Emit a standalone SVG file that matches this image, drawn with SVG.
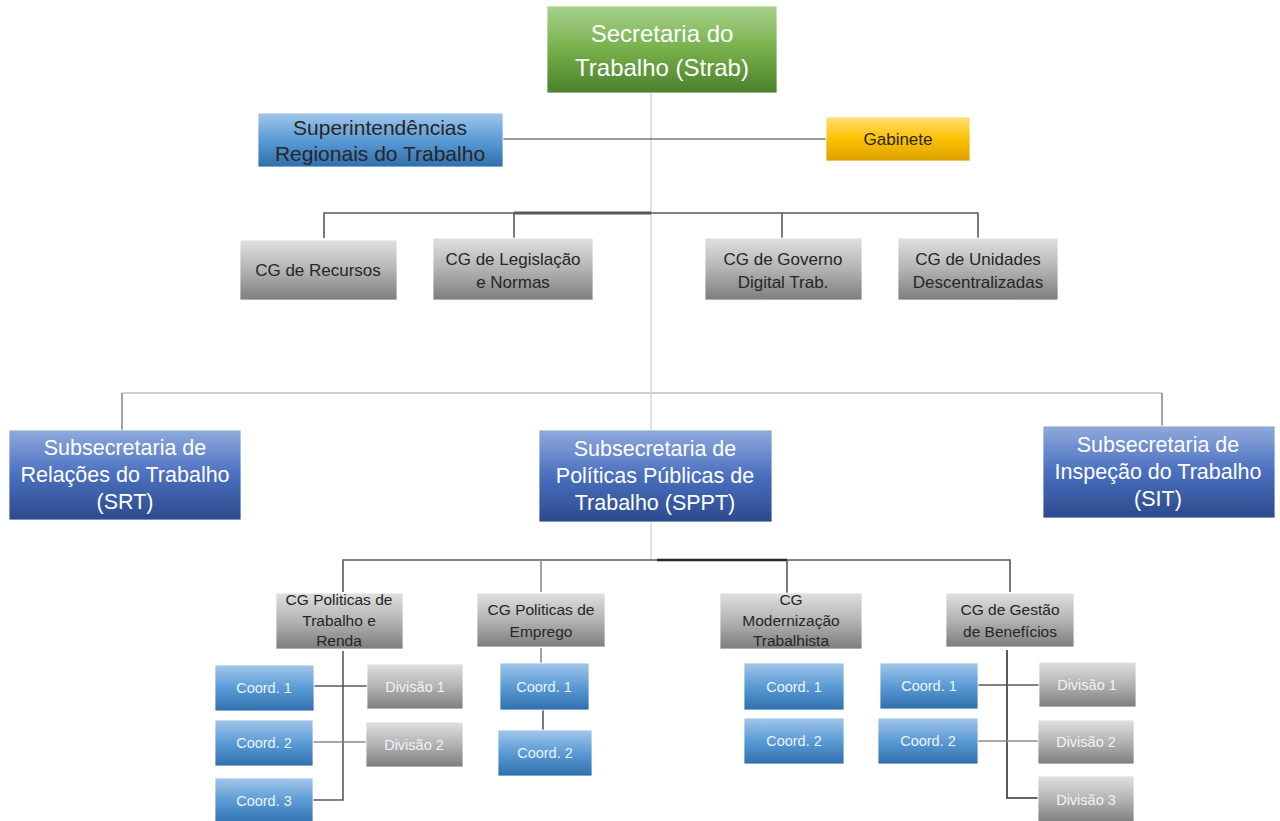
<svg xmlns="http://www.w3.org/2000/svg" width="1280" height="821" viewBox="0 0 1280 821">
<defs>
<linearGradient id="gGreen" x1="0" y1="0" x2="0" y2="1"><stop offset="0" stop-color="#a9d18e"/><stop offset="0.5" stop-color="#76b04a"/><stop offset="1" stop-color="#4b7f2c"/></linearGradient>
<linearGradient id="gLblue" x1="0" y1="0" x2="0" y2="1"><stop offset="0" stop-color="#a2c6ea"/><stop offset="0.5" stop-color="#5b9bd5"/><stop offset="1" stop-color="#2e6fad"/></linearGradient>
<linearGradient id="gYel" x1="0" y1="0" x2="0" y2="1"><stop offset="0" stop-color="#ffe07a"/><stop offset="0.5" stop-color="#ffc000"/><stop offset="1" stop-color="#d9a100"/></linearGradient>
<linearGradient id="gGray" x1="0" y1="0" x2="0" y2="1"><stop offset="0" stop-color="#e0e0e0"/><stop offset="0.5" stop-color="#b3b3b3"/><stop offset="1" stop-color="#7d7d7d"/></linearGradient>
<linearGradient id="gDblue" x1="0" y1="0" x2="0" y2="1"><stop offset="0" stop-color="#8faadc"/><stop offset="0.5" stop-color="#4a6fbf"/><stop offset="1" stop-color="#2c4a8c"/></linearGradient>
</defs>
<style>
text{font-family:"Liberation Sans Narrow","Liberation Sans",Arial,sans-serif;text-anchor:middle}
.dk{fill:#262626}
.wh{fill:#ffffff}
.lw{fill:#eef3fa}
.ln{stroke:#595959;stroke-width:1.6;fill:none}
.lg{stroke:#cfcfcf;stroke-width:1.3;fill:none}
.lm{stroke:#8a8a8a;stroke-width:1.6;fill:none}
.bx{stroke:#ffffff;stroke-width:0.8}
</style>
<rect width="1280" height="821" fill="#ffffff"/>
<g id="connectors">
<line class="lg" x1="651" y1="93" x2="651" y2="560"/>
<line class="ln" x1="503" y1="139" x2="826" y2="139" style="stroke:#7a7a7a"/>
<polyline class="ln" points="324,238 324,213 978,213 978,238"/>
<line class="ln" x1="514" y1="213" x2="514" y2="238"/>
<line class="ln" x1="782" y1="213" x2="782" y2="238"/>
<line x1="514" y1="213" x2="651" y2="213" stroke="#595959" stroke-width="3"/>
<line class="lg" x1="122" y1="393" x2="1162" y2="393" style="stroke-width:2"/>
<line class="lm" x1="122" y1="393" x2="122" y2="430"/>
<line class="lm" x1="1162" y1="393" x2="1162" y2="426"/>
<polyline class="ln" points="343,592 343,560 1010,560 1010,592"/>
<line x1="657" y1="560" x2="787" y2="560" stroke="#262626" stroke-width="2.6"/>
<line class="lm" x1="541" y1="560" x2="541" y2="592"/>
<line class="ln" x1="787" y1="560" x2="787" y2="593"/>
<polyline class="ln" points="343,651 343,800 313,800"/>
<line class="ln" x1="314" y1="686" x2="367" y2="686"/>
<line class="lm" x1="313" y1="742" x2="366" y2="742"/>
<line class="lm" x1="541" y1="648" x2="541" y2="663"/>
<line class="ln" x1="543" y1="710" x2="543" y2="730"/>
<polyline class="ln" points="1007,650 1007,798 1038,798" style="stroke:#333333"/>
<line class="ln" x1="978" y1="685" x2="1039" y2="685"/>
<line class="lm" x1="978" y1="741" x2="1038" y2="741"/>
</g>
<g id="n-strab"><rect class="bx" x="547" y="6" width="230" height="87" fill="url(#gGreen)"/><text class="wh" x="662" y="42" font-size="24">Secretaria do</text><text class="wh" x="662" y="76" font-size="24">Trabalho (Strab)</text></g>
<g id="n-sup"><rect class="bx" x="258" y="113" width="245" height="54" fill="url(#gLblue)"/><text class="dk" x="380" y="135" font-size="21">Superintendências</text><text class="dk" x="380" y="161" font-size="21">Regionais do Trabalho</text></g>
<g id="n-gab"><rect class="bx" x="826" y="117" width="144" height="44" fill="url(#gYel)"/><text class="dk" x="898" y="145" font-size="17">Gabinete</text></g>
<g id="n-rec"><rect class="bx" x="240" y="240" width="157" height="60" fill="url(#gGray)"/><text class="dk" x="318" y="276" font-size="17">CG de Recursos</text></g>
<g id="n-leg"><rect class="bx" x="433" y="238" width="160" height="62" fill="url(#gGray)"/><text class="dk" x="513" y="265" font-size="17">CG de Legislação</text><text class="dk" x="513" y="288" font-size="17">e Normas</text></g>
<g id="n-gov"><rect class="bx" x="705" y="238" width="157" height="62" fill="url(#gGray)"/><text class="dk" x="783" y="265" font-size="17">CG de Governo</text><text class="dk" x="783" y="288" font-size="17">Digital Trab.</text></g>
<g id="n-uni"><rect class="bx" x="898" y="238" width="160" height="62" fill="url(#gGray)"/><text class="dk" x="978" y="265" font-size="17">CG de Unidades</text><text class="dk" x="978" y="288" font-size="17">Descentralizadas</text></g>
<g id="n-srt"><rect class="bx" x="9" y="430" width="232" height="90" fill="url(#gDblue)"/><text class="wh" x="125" y="455" font-size="21.5">Subsecretaria de</text><text class="wh" x="125" y="482" font-size="21.5">Relações do Trabalho</text><text class="wh" x="125" y="509" font-size="21.5">(SRT)</text></g>
<g id="n-sppt"><rect class="bx" x="539" y="430" width="233" height="92" fill="url(#gDblue)"/><text class="wh" x="655" y="456" font-size="21.5">Subsecretaria de</text><text class="wh" x="655" y="483" font-size="21.5">Políticas Públicas de</text><text class="wh" x="655" y="510" font-size="21.5">Trabalho (SPPT)</text></g>
<g id="n-sit"><rect class="bx" x="1043" y="426" width="232" height="92" fill="url(#gDblue)"/><text class="wh" x="1158" y="452" font-size="21.5">Subsecretaria de</text><text class="wh" x="1158" y="479" font-size="21.5">Inspeção do Trabalho</text><text class="wh" x="1158" y="506" font-size="21.5">(SIT)</text></g>
<g id="n-ptr"><rect class="bx" x="276" y="593" width="127" height="56" fill="url(#gGray)"/><text class="dk" x="339" y="605" font-size="15.5">CG  Politicas de</text><text class="dk" x="339" y="626" font-size="15.5">Trabalho e</text><text class="dk" x="339" y="646" font-size="15.5">Renda</text></g>
<g id="n-emp"><rect class="bx" x="477" y="593" width="128" height="54" fill="url(#gGray)"/><text class="dk" x="541" y="615" font-size="15.5">CG  Politicas de</text><text class="dk" x="541" y="637" font-size="15.5">Emprego</text></g>
<g id="n-mod"><rect class="bx" x="720" y="593" width="142" height="56" fill="url(#gGray)"/><text class="dk" x="791" y="605" font-size="15.5">CG</text><text class="dk" x="791" y="626" font-size="15.5">Modernização</text><text class="dk" x="791" y="646" font-size="15.5">Trabalhista</text></g>
<g id="n-ges"><rect class="bx" x="946" y="593" width="128" height="54" fill="url(#gGray)"/><text class="dk" x="1010" y="615" font-size="15.5">CG de Gestão</text><text class="dk" x="1010" y="637" font-size="15.5">de Benefícios</text></g>
<g id="n-ptr-c1"><rect class="bx" x="215" y="665" width="99" height="46" fill="url(#gLblue)"/><text class="lw" x="264" y="693" font-size="14.5">Coord. 1</text></g>
<g id="n-ptr-c2"><rect class="bx" x="215" y="720" width="98" height="46" fill="url(#gLblue)"/><text class="lw" x="264" y="748" font-size="14.5">Coord. 2</text></g>
<g id="n-ptr-c3"><rect class="bx" x="215" y="778" width="98" height="46" fill="url(#gLblue)"/><text class="lw" x="264" y="806" font-size="14.5">Coord. 3</text></g>
<g id="n-ptr-d1"><rect class="bx" x="367" y="664" width="96" height="45" fill="url(#gGray)"/><text class="lw" x="415" y="692" font-size="14.5">Divisão 1</text></g>
<g id="n-ptr-d2"><rect class="bx" x="366" y="722" width="97" height="45" fill="url(#gGray)"/><text class="lw" x="414" y="750" font-size="14.5">Divisão 2</text></g>
<g id="n-emp-c1"><rect class="bx" x="500" y="663" width="89" height="47" fill="url(#gLblue)"/><text class="lw" x="544" y="692" font-size="14.5">Coord. 1</text></g>
<g id="n-emp-c2"><rect class="bx" x="498" y="730" width="94" height="46" fill="url(#gLblue)"/><text class="lw" x="545" y="758" font-size="14.5">Coord. 2</text></g>
<g id="n-mod-c1"><rect class="bx" x="744" y="663" width="100" height="47" fill="url(#gLblue)"/><text class="lw" x="794" y="692" font-size="14.5">Coord. 1</text></g>
<g id="n-mod-c2"><rect class="bx" x="744" y="718" width="100" height="46" fill="url(#gLblue)"/><text class="lw" x="794" y="746" font-size="14.5">Coord. 2</text></g>
<g id="n-ges-c1"><rect class="bx" x="880" y="663" width="98" height="46" fill="url(#gLblue)"/><text class="lw" x="929" y="691" font-size="14.5">Coord. 1</text></g>
<g id="n-ges-c2"><rect class="bx" x="878" y="718" width="100" height="46" fill="url(#gLblue)"/><text class="lw" x="928" y="746" font-size="14.5">Coord. 2</text></g>
<g id="n-ges-d1"><rect class="bx" x="1039" y="662" width="97" height="45" fill="url(#gGray)"/><text class="lw" x="1087" y="690" font-size="14.5">Divisão 1</text></g>
<g id="n-ges-d2"><rect class="bx" x="1038" y="720" width="96" height="44" fill="url(#gGray)"/><text class="lw" x="1086" y="747" font-size="14.5">Divisão 2</text></g>
<g id="n-ges-d3"><rect class="bx" x="1038" y="776" width="96" height="47" fill="url(#gGray)"/><text class="lw" x="1086" y="805" font-size="14.5">Divisão 3</text></g>
</svg>
